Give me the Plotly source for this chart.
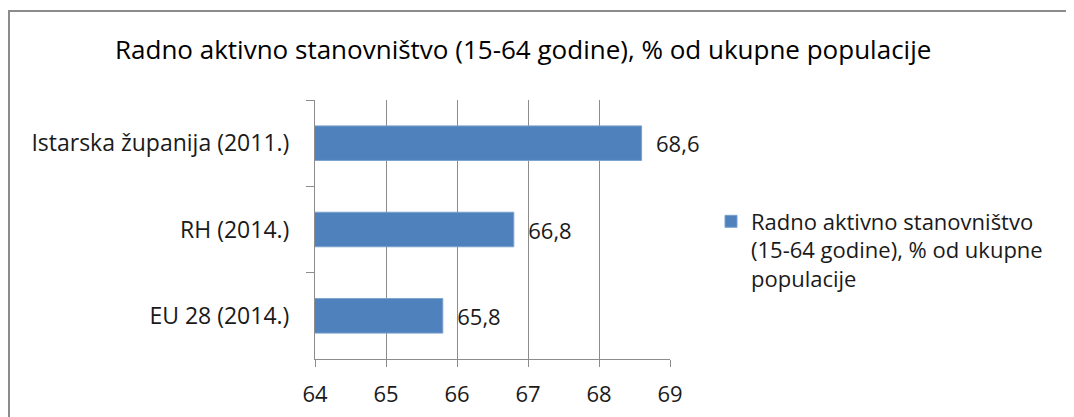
import plotly.graph_objects as go

# podaci
kategorije = ["Istarska županija (2011.)", "RH (2014.)", "EU 28 (2014.)"]
vrijednosti = [68.6, 66.8, 65.8]
naziv_serije = "Radno aktivno stanovništvo<br>(15-64 godine), % od ukupne<br>populacije"
naslov = "Radno aktivno stanovništvo (15-64 godine), % od ukupne populacije"
x_tickovi = [64, 65, 66, 67, 68, 69]

FONT = "Open Sans"
W, H = 1074, 417
OFF = 8  # stranica ima marginu od 8 px
L, T = 315 - OFF, 100 - OFF
R = W - (670 - OFF)
B = H - (359 - OFF)
pw, ph = W - L - R, H - T - B


def px(x):
    # piksel slike -> paper koordinata
    return (x - OFF - L) / pw


def py(y):
    return (H - B - (y - OFF)) / ph


fig = go.Figure()
fig.add_trace(go.Bar(
    y=kategorije, x=vrijednosti, orientation="h",
    name=naziv_serije,
    marker=dict(color="#4F81BD", line=dict(color="#7BA0CD", width=1)),
    texttemplate="\u00a0\u00a0%{x:.1f}", textposition="outside",
    textfont=dict(size=22, color="#1a1a1a", family=FONT),
    cliponaxis=False,
))

fig.update_layout(
    width=W, height=H,
    margin=dict(l=L, r=R, t=T, b=B),
    paper_bgcolor="white", plot_bgcolor="white",
    separators=",.",
    font=dict(family=FONT, size=22, color="#1a1a1a"),
    title=dict(text=naslov, xref="container", x=(115 - OFF) / W, xanchor="left",
               yref="container", y=1 - (50 - OFF) / H, yanchor="middle",
               font=dict(size=26, family=FONT, color="#000")),
    bargap=0.6,
    showlegend=True,
    legend=dict(x=px(703 + OFF), y=py(250), xanchor="left", yanchor="middle",
                valign="top",
                font=dict(size=22, family=FONT, color="#1a1a1a"),
                itemwidth=30, bgcolor="rgba(0,0,0,0)"),
    shapes=[dict(type="rect", xref="paper", yref="paper",
                 x0=px(9), x1=px(1090), y0=py(11), y1=py(440),
                 line=dict(color="#8c8c8c", width=2), layer="below")],
)
fig.update_xaxes(range=[64, 69], tickvals=x_tickovi, showgrid=True, gridcolor="#8c8c8c",
                 gridwidth=1, showline=True, linecolor="#8c8c8c", ticks="outside",
                 ticklen=7, tickcolor="#8c8c8c", zeroline=False,
                 tickfont=dict(size=22), ticklabelstandoff=9)
fig.update_yaxes(autorange="reversed", showline=True, linecolor="#8c8c8c",
                 ticks="outside", tickson="boundaries", ticklen=8, tickcolor="#8c8c8c",
                 showgrid=False, tickfont=dict(size=23), ticklabelstandoff=20)

fig.write_html("out.html")
